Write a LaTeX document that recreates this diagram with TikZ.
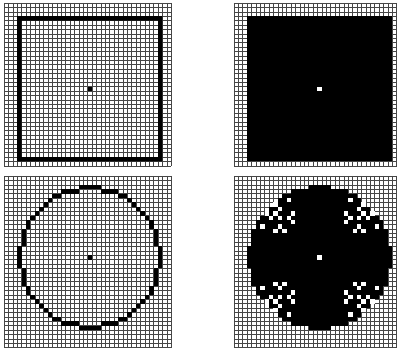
\documentclass[tikz,border=0pt]{standalone}
\definecolor{cGrid}{RGB}{70,70,70}

\begin{document}
\begin{tikzpicture}[x=0.03cm,y=-0.03cm,
  % one cell of the raster is 4.4 px of the reference
  cell/.style={x=0.132cm,y=-0.132cm},
  grd/.style={draw=cGrid,line width=0.4pt},
  pix/.style={fill=black},
  hole/.style={fill=white},
]
\useasboundingbox (0,0) rectangle (398,349);

% ------------------------------------------------------------ square outline
\begin{scope}[shift={(4,3)},cell]
  \foreach \k in {0,...,38} \draw[grd] (\k,0) -- (\k,37);
  \foreach \k in {0,...,37} \draw[grd] (0,\k) -- (38,\k);
  \fill[pix,even odd rule] (3,3) rectangle (36,36) (4,4) rectangle (35,35);
  \fill[pix] (19,19) rectangle +(1,1);
\end{scope}

% ------------------------------------------------------------- filled square
\begin{scope}[shift={(233.8,3)},cell]
  \foreach \k in {0,...,37} \draw[grd] (\k,0) -- (\k,37);
  \foreach \k in {0,...,37} \draw[grd] (0,\k) -- (37,\k);
  \fill[pix] (3,3) rectangle (36,36);
  \fill[hole] (19,19) rectangle +(1,1);
\end{scope}

% ------------------------------------------------------------ circle outline
\begin{scope}[shift={(4,176)},cell]
  \foreach \k in {0,...,38} \draw[grd] (\k,0) -- (\k,39);
  \foreach \k in {0,...,39} \draw[grd] (0,\k) -- (38,\k);
  \foreach \i in {-17,...,17}{
    \foreach \j in {-17,...,17}{
      \pgfmathtruncatemacro\p{min(abs(\i),abs(\j))}
      \pgfmathtruncatemacro\q{max(abs(\i),abs(\j))}
      \pgfmathtruncatemacro\on{\q==round(sqrt(max(246.49-\p*\p,0)))}
      \ifnum\on=1 \fill[pix] (19+\i,18+\j) rectangle +(1,1); \fi
    }}
  \fill[pix] (19,18) rectangle +(1,1);
\end{scope}

% ------------------------------------------------------------- filled circle
\begin{scope}[shift={(233.8,176)},cell]
  \foreach \k in {0,...,37} \draw[grd] (\k,0) -- (\k,39);
  \foreach \k in {0,...,39} \draw[grd] (0,\k) -- (37,\k);
  \foreach \i in {-17,...,17}{
    \foreach \j in {-17,...,17}{
      \pgfmathtruncatemacro\p{min(abs(\i),abs(\j))}
      \pgfmathtruncatemacro\q{max(abs(\i),abs(\j))}
      \pgfmathtruncatemacro\inside{\q<=round(sqrt(max(246.49-\p*\p,0)))}
      \ifnum\inside=1 \fill[pix] (19+\i,18+\j) rectangle +(1,1); \fi
    }}
  % gaps left between the rings, one octant listed, mirrored 8 ways
  \foreach \p/\q in {7/13,10/12,10/10,6/10,9/11,9/9,7/9,6/8}{
    \foreach \sx in {-1,1}{
      \foreach \sy in {-1,1}{
        \fill[hole] (19+\sx*\p,18+\sy*\q) rectangle +(1,1);
        \fill[hole] (19+\sx*\q,18+\sy*\p) rectangle +(1,1);
      }}}
  \fill[hole] (19,18) rectangle +(1,1);
\end{scope}

\end{tikzpicture}
\end{document}
